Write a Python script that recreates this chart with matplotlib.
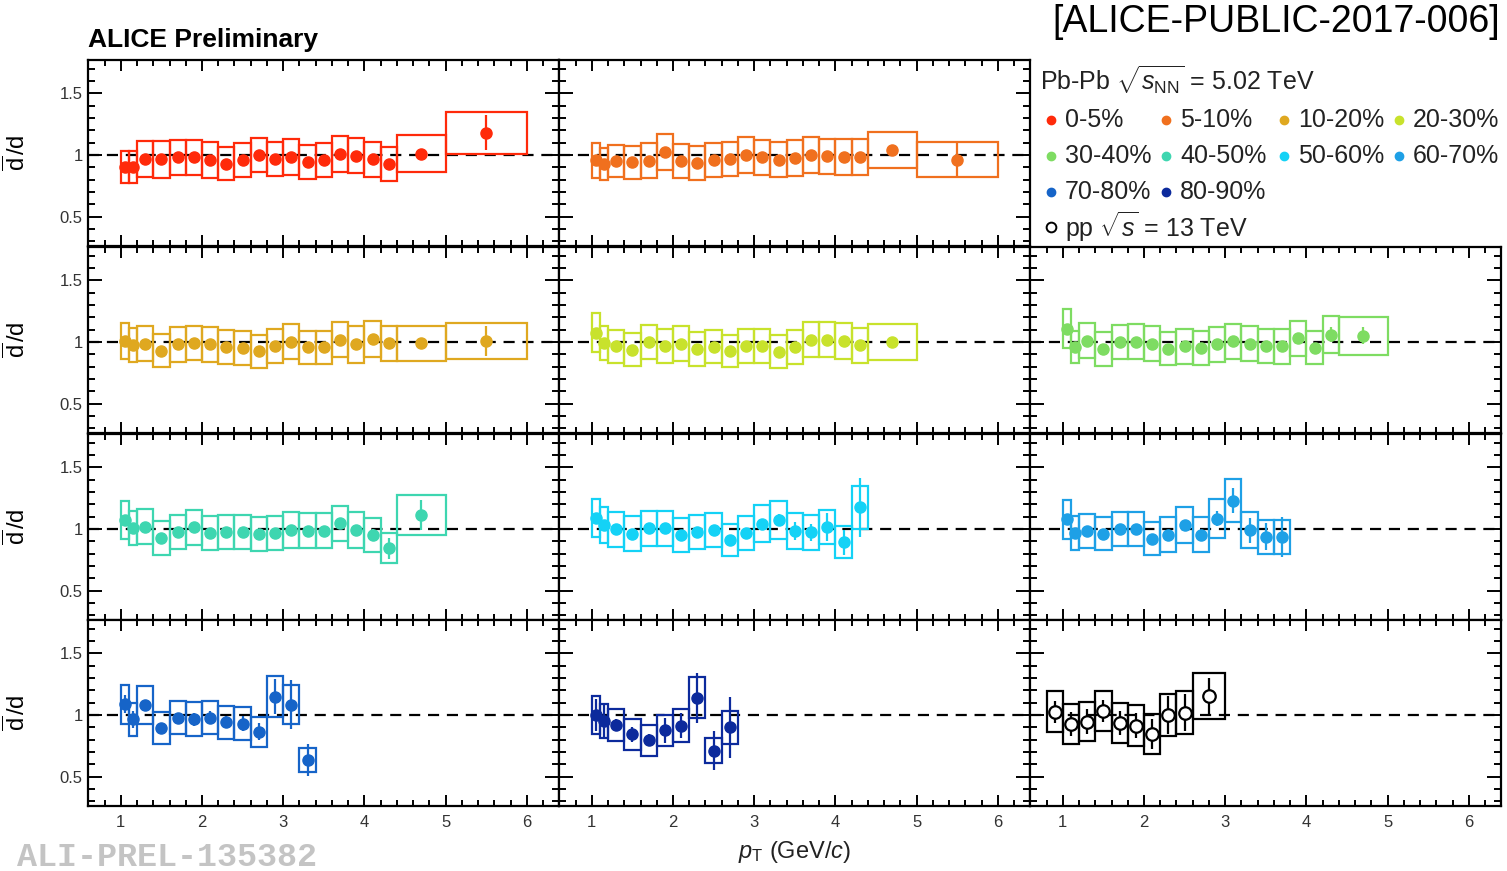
import numpy as np
import matplotlib.pyplot as plt
from matplotlib.lines import Line2D
from matplotlib.ticker import MultipleLocator, FormatStrFormatter

plt.rcParams['font.family'] = ['Liberation Sans', 'DejaVu Sans']
plt.rcParams['mathtext.fontset'] = 'custom'
plt.rcParams['mathtext.rm'] = 'Liberation Sans'
plt.rcParams['mathtext.it'] = 'Liberation Sans:italic'
plt.rcParams['mathtext.bf'] = 'Liberation Sans:bold'

W, H = 1507, 871

#bordas dos bins de pT
edges_pbpb = [1.0, 1.1, 1.2, 1.4, 1.6, 1.8, 2.0, 2.2, 2.4, 2.6, 2.8, 3.0,
              3.2, 3.4, 3.6, 3.8, 4.0, 4.2, 4.4, 5.0, 6.0]
edges_pp = [0.8, 1.0, 1.2, 1.4, 1.6, 1.8, 2.0, 2.2, 2.4, 2.6, 3.0]

centralities = ['0-5%', '5-10%', '10-20%', '20-30%', '30-40%',
                '40-50%', '50-60%', '60-70%', '70-80%', '80-90%']
colors = ['#ff2a0a', '#f0701e', '#dfa820', '#c8e22c', '#7edc62',
          '#3ed6b0', '#14d2f6', '#1ea0e6', '#1664c8', '#0c2a9c']

#razao dbar/d, sistematico, estatistico
val_0_5 = [0.90, 0.90, 0.97, 0.965, 0.98, 0.98, 0.96, 0.93, 0.96, 1.00,
           0.97, 0.985, 0.945, 0.96, 1.005, 0.995, 0.965, 0.93, 1.01, 1.18]
sys_0_5 = [0.13, 0.13, 0.145, 0.148, 0.145, 0.145, 0.145, 0.135, 0.137, 0.141,
           0.138, 0.145, 0.136, 0.137, 0.145, 0.144, 0.141, 0.137, 0.148, 0.172]
stat_0_5 = [0.02, 0.02, 0.01, 0.01, 0.01, 0.01, 0.01, 0.01, 0.01, 0.01,
            0.01, 0.01, 0.01, 0.01, 0.01, 0.01, 0.01, 0.02, 0.03, 0.14]

val_5_10 = [0.957, 0.925, 0.95, 0.94, 0.955, 1.025, 0.95, 0.935, 0.958, 0.965,
            1.0, 0.98, 0.962, 0.978, 1.0, 0.99, 0.984, 0.984, 1.038, 0.963]
sys_5_10 = [0.141, 0.13, 0.132, 0.133, 0.14, 0.144, 0.136, 0.134, 0.137, 0.137,
            0.146, 0.144, 0.141, 0.144, 0.145, 0.142, 0.145, 0.144, 0.145, 0.14]
stat_5_10 = [0.02, 0.02, 0.01, 0.01, 0.01, 0.01, 0.01, 0.01, 0.01, 0.01,
             0.01, 0.01, 0.01, 0.01, 0.01, 0.01, 0.01, 0.02, 0.03, 0.14]

val_10_20 = [1.008, 0.976, 0.987, 0.93, 0.98, 0.99, 0.98, 0.957, 0.95, 0.925,
             0.968, 1.003, 0.957, 0.957, 1.02, 0.98, 1.027, 0.99, 0.99, 1.008]
sys_10_20 = [0.148, 0.138, 0.14, 0.136, 0.142, 0.138, 0.145, 0.138, 0.138, 0.134,
             0.141, 0.14, 0.136, 0.136, 0.144, 0.148, 0.145, 0.14, 0.14, 0.145]
stat_10_20 = [0.02, 0.02, 0.01, 0.01, 0.01, 0.01, 0.01, 0.01, 0.01, 0.01,
              0.01, 0.01, 0.01, 0.01, 0.01, 0.01, 0.01, 0.02, 0.03, 0.12]

val_20_30 = [1.075, 0.99, 0.965, 0.936, 1.0, 0.97, 0.987, 0.946, 0.962, 0.93,
             0.968, 0.968, 0.922, 0.957, 1.02, 1.02, 1.008, 0.973, 1.0]
sys_20_30 = [0.157, 0.137, 0.136, 0.134, 0.138, 0.138, 0.14, 0.137, 0.134, 0.13,
             0.137, 0.137, 0.133, 0.137, 0.142, 0.142, 0.145, 0.142, 0.144]
stat_20_30 = [0.02, 0.02, 0.01, 0.01, 0.01, 0.01, 0.01, 0.01, 0.01, 0.01,
              0.01, 0.01, 0.01, 0.01, 0.01, 0.02, 0.02, 0.02, 0.03]

val_30_40 = [1.107, 0.963, 1.01, 0.947, 1.0, 1.003, 0.987, 0.947, 0.965, 0.952,
             0.98, 1.005, 0.987, 0.968, 0.965, 1.032, 0.955, 1.059, 1.05]
sys_30_40 = [0.158, 0.13, 0.141, 0.138, 0.138, 0.141, 0.14, 0.137, 0.14, 0.138,
             0.142, 0.14, 0.14, 0.138, 0.14, 0.142, 0.137, 0.152, 0.155]
stat_30_40 = [0.02, 0.02, 0.01, 0.01, 0.01, 0.01, 0.01, 0.01, 0.01, 0.01,
              0.01, 0.01, 0.01, 0.01, 0.02, 0.02, 0.03, 0.06, 0.07]

val_40_50 = [1.075, 1.008, 1.019, 0.925, 0.976, 1.013, 0.97, 0.979, 0.979, 0.96,
             0.968, 0.992, 0.987, 0.987, 1.045, 0.992, 0.952, 0.845, 1.115]
sys_40_50 = [0.152, 0.14, 0.14, 0.137, 0.138, 0.14, 0.138, 0.138, 0.138, 0.14,
             0.14, 0.142, 0.14, 0.14, 0.145, 0.142, 0.138, 0.122, 0.161]
stat_40_50 = [0.02, 0.02, 0.01, 0.01, 0.01, 0.01, 0.01, 0.01, 0.01, 0.01,
              0.01, 0.01, 0.01, 0.02, 0.03, 0.04, 0.05, 0.085, 0.12]

val_50_60 = [1.088, 1.03, 0.997, 0.963, 1.005, 1.005, 0.955, 0.973, 0.992, 0.912,
             0.968, 1.043, 1.075, 0.984, 0.973, 1.016, 0.893, 1.176]
sys_50_60 = [0.155, 0.146, 0.142, 0.14, 0.14, 0.14, 0.138, 0.137, 0.14, 0.132,
             0.14, 0.15, 0.155, 0.145, 0.141, 0.137, 0.128, 0.173]
stat_50_60 = [0.03, 0.02, 0.01, 0.01, 0.01, 0.01, 0.01, 0.02, 0.02, 0.02,
              0.02, 0.04, 0.05, 0.07, 0.07, 0.11, 0.1, 0.24]

val_60_70 = [1.078, 0.968, 0.984, 0.963, 1.0, 1.0, 0.922, 0.955, 1.032, 0.955,
             1.083, 1.23, 0.99, 0.936, 0.936]
sys_60_70 = [0.155, 0.134, 0.14, 0.137, 0.14, 0.141, 0.136, 0.14, 0.147, 0.14,
             0.156, 0.175, 0.145, 0.14, 0.14]
stat_60_70 = [0.03, 0.03, 0.02, 0.02, 0.02, 0.02, 0.02, 0.03, 0.04, 0.04,
              0.06, 0.1, 0.1, 0.11, 0.16]

val_70_80 = [1.088, 0.965, 1.08, 0.896, 0.979, 0.965, 0.979, 0.941, 0.928, 0.864,
             1.149, 1.085, 0.635]
sys_70_80 = [0.157, 0.133, 0.155, 0.131, 0.136, 0.139, 0.136, 0.133, 0.133, 0.123,
             0.164, 0.157, 0.097]
stat_70_80 = [0.07, 0.07, 0.03, 0.03, 0.04, 0.05, 0.05, 0.05, 0.06, 0.07,
              0.14, 0.2, 0.13]

val_80_90 = [1.0, 0.952, 0.92, 0.845, 0.795, 0.877, 0.915, 1.139, 0.712, 0.899]
sys_80_90 = [0.15, 0.14, 0.128, 0.125, 0.123, 0.127, 0.133, 0.165, 0.104, 0.13]
stat_80_90 = [0.13, 0.13, 0.05, 0.06, 0.05, 0.1, 0.1, 0.2, 0.16, 0.245]

val_pp = [1.027, 0.928, 0.947, 1.03, 0.936, 0.915, 0.848, 1.0, 1.02, 1.152]
sys_pp = [0.164, 0.16, 0.161, 0.163, 0.161, 0.164, 0.164, 0.167, 0.176, 0.185]
stat_pp = [0.09, 0.1, 0.1, 0.09, 0.1, 0.1, 0.12, 0.15, 0.15, 0.15]

vals = [val_0_5, val_5_10, val_10_20, val_20_30, val_30_40,
        val_40_50, val_50_60, val_60_70, val_70_80, val_80_90]
syss = [sys_0_5, sys_5_10, sys_10_20, sys_20_30, sys_30_40,
        sys_40_50, sys_50_60, sys_60_70, sys_70_80, sys_80_90]
stats = [stat_0_5, stat_5_10, stat_10_20, stat_20_30, stat_30_40,
         stat_40_50, stat_50_60, stat_60_70, stat_70_80, stat_80_90]

#posicoes dos paineis (pixels)
col_left = [88.3, 559.3, 1030.3]
row_top = [59.9, 246.9, 433.9, 619.9]
pw, ph = 471.0, 186.5
slots = [(0, 0), (0, 1), (1, 0), (1, 1), (1, 2), (2, 0), (2, 1), (2, 2), (3, 0), (3, 1)]

fig = plt.figure(figsize=(W / 100, H / 100), dpi=100)

def fx(px):
    return px / W

def fy(py):
    return 1 - py / H

def make_ax(r, c):
    ax = fig.add_axes([fx(col_left[c]), fy(row_top[r] + ph), pw / W, ph / H])
    ax.set_xlim(0.6, 6.4)
    ax.set_ylim(0.26, 1.77)
    ax.axhline(1, color='k', lw=1.6, dashes=(5, 3.5), zorder=1)
    ax.xaxis.set_major_locator(MultipleLocator(1))
    ax.xaxis.set_minor_locator(MultipleLocator(0.2))
    ax.yaxis.set_major_locator(MultipleLocator(0.5))
    ax.yaxis.set_minor_locator(MultipleLocator(0.1))
    ax.yaxis.set_major_formatter(FormatStrFormatter('%g'))
    ax.tick_params(which='both', direction='in', top=True, right=True, width=1.4,
                   labelsize=12, labelcolor='#333333')
    ax.tick_params(axis='x', which='major', length=8, pad=6)
    ax.tick_params(axis='x', which='minor', length=4)
    ax.tick_params(axis='y', which='major', length=10, pad=4)
    ax.tick_params(axis='y', which='minor', length=5)
    for s in ax.spines.values():
        s.set_linewidth(1.6)
    if c != 0:
        ax.set_yticklabels([])
    else:
        ax.set_ylabel(r'$\overline{\mathrm{d}}\,/\mathrm{d}$', fontsize=17)
        ax.yaxis.set_label_coords(-(88.3 - 30) / pw, 0.5)
    if r != 3:
        ax.set_xticklabels([])
    return ax

def draw(ax, edges, v, s, e, color, pp=False):
    n = len(v)
    lo = np.array(edges[:n])
    hi = np.array(edges[1:n + 1])
    cen = (lo + hi) / 2
    v = np.array(v)
    s = np.array(s)
    ax.bar(cen, 2 * s, width=hi - lo, bottom=v - s, fill=False,
           edgecolor=color, linewidth=1.6, zorder=2)
    if pp:
        ax.errorbar(cen, v, yerr=e, fmt='o', color=color, mfc='white', mec=color,
                    mew=1.6, ms=9, elinewidth=1.6, capsize=0, zorder=3)
    else:
        ax.errorbar(cen, v, yerr=e, fmt='o', color=color, ms=8,
                    elinewidth=1.6, capsize=0, zorder=3)

for i in range(len(centralities)):
    r, c = slots[i]
    ax = make_ax(r, c)
    draw(ax, edges_pbpb, vals[i], syss[i], stats[i], colors[i])

ax = make_ax(3, 2)
draw(ax, edges_pp, val_pp, sys_pp, stat_pp, 'k', pp=True)

#legenda
fig.text(fx(1040), fy(80), r'Pb-Pb $\sqrt{s_{\mathrm{NN}}}$ = 5.02 TeV', fontsize=18,
         va='center', ha='left', color='#222222')
leg_x = [1065, 1180, 1298, 1413]
leg_y = [120, 156, 192]
for i, lab in enumerate(centralities):
    tx = leg_x[i % 4]
    ty = leg_y[i // 4]
    fig.add_artist(Line2D([fx(tx - 14)], [fy(ty)], marker='o', ms=6, color=colors[i],
                          transform=fig.transFigure))
    fig.text(fx(tx), fy(ty), lab, fontsize=18, va='center', ha='left', color='#222222')
fig.add_artist(Line2D([fx(1051)], [fy(227)], marker='o', ms=7, mfc='white', mec='k',
                      mew=1.4, transform=fig.transFigure))
fig.text(fx(1065), fy(227), r'pp $\sqrt{s}$ = 13 TeV', fontsize=18, va='center',
         ha='left', color='#222222')

fig.text(fx(88), fy(40), 'ALICE Preliminary', fontsize=19, fontweight='bold',
         va='center', ha='left')
fig.text(fx(1500), fy(22), '[ALICE-PUBLIC-2017-006]', fontsize=27, va='center', ha='right')
fig.text(fx(795), fy(852), r'$p_{\mathrm{T}}$ (GeV/$c$)', fontsize=17, va='center',
         ha='center', color='#222222')
fig.text(fx(17), fy(857), 'ALI-PREL-135382', fontsize=24, family='Liberation Mono',
         fontweight='bold', color='#c4c4c4', va='center', ha='left')

fig.savefig('out.png', dpi=100)
